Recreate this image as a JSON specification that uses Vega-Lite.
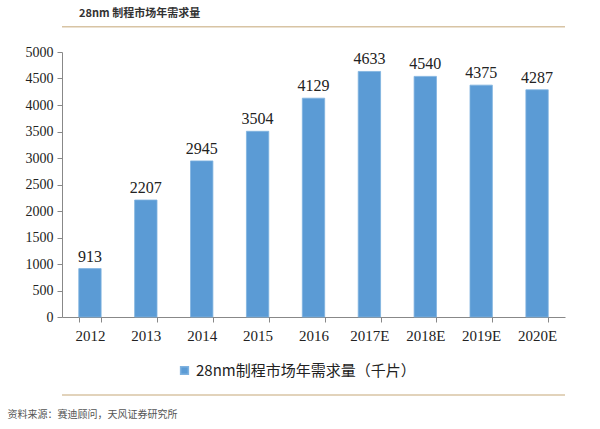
{
  "$schema": "https://vega.github.io/schema/vega-lite/v6.json",
  "autosize": "none",
  "width": 503,
  "height": 265,
  "padding": {"left": 62, "top": 52, "right": 35, "bottom": 112},
  "background": "#ffffff",
  "view": {"stroke": null},
  "title": {
    "text": "28nm 制程市场年需求量",
    "anchor": "start",
    "frame": "group",
    "dx": 17,
    "offset": 7,
    "font": "Noto Sans CJK SC",
    "fontSize": 11,
    "fontWeight": "bold",
    "color": "#333333"
  },
  "data": {
    "values": [
      {"year": "2012", "demand": 913, "series": "28nm制程市场年需求量（千片）"},
      {"year": "2013", "demand": 2207, "series": "28nm制程市场年需求量（千片）"},
      {"year": "2014", "demand": 2945, "series": "28nm制程市场年需求量（千片）"},
      {"year": "2015", "demand": 3504, "series": "28nm制程市场年需求量（千片）"},
      {"year": "2016", "demand": 4129, "series": "28nm制程市场年需求量（千片）"},
      {"year": "2017E", "demand": 4633, "series": "28nm制程市场年需求量（千片）"},
      {"year": "2018E", "demand": 4540, "series": "28nm制程市场年需求量（千片）"},
      {"year": "2019E", "demand": 4375, "series": "28nm制程市场年需求量（千片）"},
      {"year": "2020E", "demand": 4287, "series": "28nm制程市场年需求量（千片）"}
    ]
  },
  "encoding": {
    "x": {
      "field": "year",
      "type": "nominal",
      "sort": null,
      "scale": {"paddingInner": 0.6, "paddingOuter": 0.3},
      "axis": {
        "title": "资料来源：赛迪顾问，天风证券研究所",
        "titleAnchor": "start",
        "titleAlign": "left",
        "titleX": -55,
        "titleY": 92,
        "titleFont": "Noto Sans CJK SC",
        "titleFontSize": 10,
        "titleFontWeight": "normal",
        "titleColor": "#555555",
        "labelAngle": 0,
        "labelFont": "Liberation Serif",
        "labelFontSize": 15,
        "labelColor": "#222222",
        "labelPadding": 6,
        "tickBand": "extent",
        "tickSize": 5,
        "tickColor": "#888888",
        "domainColor": "#888888"
      }
    },
    "y": {
      "field": "demand",
      "type": "quantitative",
      "scale": {"domain": [0, 5000]},
      "axis": {
        "title": null,
        "format": "d",
        "values": [0, 500, 1000, 1500, 2000, 2500, 3000, 3500, 4000, 4500, 5000],
        "grid": false,
        "labelFont": "Liberation Serif",
        "labelFontSize": 14,
        "labelColor": "#222222",
        "labelPadding": 4,
        "tickSize": 5,
        "tickColor": "#888888",
        "domainColor": "#888888"
      }
    }
  },
  "layer": [
    {
      "mark": {"type": "bar", "stroke": "#7fb2e0", "strokeWidth": 0.8},
      "encoding": {
        "color": {
          "field": "series",
          "type": "nominal",
          "scale": {"range": ["#5b9bd5"]},
          "legend": {
            "title": null,
            "orient": "none",
            "legendX": 115,
            "legendY": 311,
            "symbolType": "square",
            "symbolSize": 60,
            "labelFont": "Noto Sans CJK SC",
            "labelFontSize": 15,
            "labelColor": "#222222",
            "labelLimit": 400
          }
        }
      }
    },
    {
      "mark": {
        "type": "text",
        "dy": -12,
        "font": "Liberation Serif",
        "fontSize": 16,
        "color": "#222222"
      },
      "encoding": {"text": {"field": "demand", "type": "quantitative"}}
    },
    {
      "data": {"values": [{"pos": 5475}, {"pos": -1470}]},
      "mark": {"type": "rule", "clip": false, "color": "#d8c4a4", "strokeWidth": 1.5},
      "encoding": {
        "x": null,
        "y": {"field": "pos", "type": "quantitative"}
      }
    }
  ]
}
